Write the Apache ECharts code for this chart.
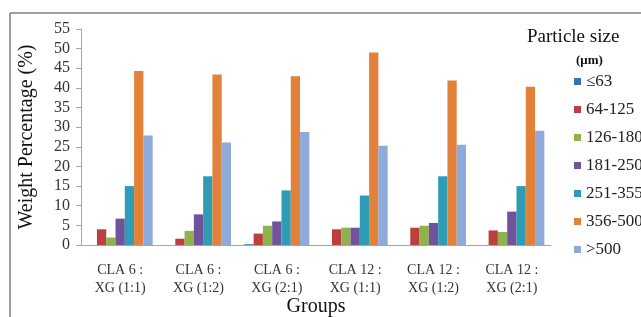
<!DOCTYPE html>
<html>
<head>
<meta charset="utf-8">
<script src="https://cdn.jsdelivr.net/npm/echarts@6/dist/echarts.min.js"></script>
<style>
  html, body { margin: 0; padding: 0; background: #fff; }
  #mainChart { width: 641px; height: 317px; }
</style>
</head>
<body>
<div id="mainChart"></div>
<script>
// 分组与粒径数据
var groups = ['CLA 6 :\nXG (1:1)', 'CLA 6 :\nXG (1:2)', 'CLA 6 :\nXG (2:1)',
              'CLA 12 :\nXG (1:1)', 'CLA 12 :\nXG (1:2)', 'CLA 12 :\nXG (2:1)'];
var sizeNames = ['≤63', '64-125', '126-180', '181-250', '251-355', '356-500', '>500'];
var size63 = [0, 0, 0.2, 0, 0, 0];
var size125 = [4.0, 1.6, 2.9, 4.0, 4.4, 3.7];
var size180 = [1.9, 3.6, 4.9, 4.4, 4.9, 3.3];
var size250 = [6.7, 7.8, 6.0, 4.4, 5.6, 8.5];
var size355 = [15.0, 17.5, 13.9, 12.6, 17.5, 15.0];
var size500 = [44.3, 43.4, 43.0, 49.0, 41.9, 40.3];
var sizeOver = [27.9, 26.1, 28.8, 25.3, 25.5, 29.1];
var yTicks = [0, 55, 5];

var seriesData = [size63, size125, size180, size250, size355, size500, sizeOver];
var colors = ['#3b72b3', '#bb3f3d', '#8fb24d', '#70539a', '#2f9cb6', '#e2823a', '#8eaad8'];
var font = '"Liberation Serif", "Times New Roman", serif';

var chartDom = document.getElementById('mainChart');
var myChart = echarts.init(chartDom);

var option = {
    animation: false,
    color: colors,
    grid: { left: 81, right: 90, top: 29, bottom: 72, containLabel: false, outerBoundsMode: 'none' },
    legend: {
        data: sizeNames,
        orient: 'vertical',
        left: 574,
        top: 73,
        padding: 0,
        icon: 'rect',
        itemWidth: 7,
        itemHeight: 7,
        itemGap: 11,
        textStyle: { fontFamily: font, fontSize: 17, color: '#222', lineHeight: 17 }
    },
    graphic: [
        { type: 'line', shape: { x1: 10, y1: 13, x2: 641, y2: 13 }, style: { stroke: '#808080', lineWidth: 1.5 } },
        { type: 'line', shape: { x1: 10, y1: 13, x2: 10, y2: 317 }, style: { stroke: '#808080', lineWidth: 1.5 } },
        { type: 'text', left: 527, top: 28, style: { text: 'Particle size', font: '19px ' + font, fill: '#111' } },
        { type: 'text', left: 576, top: 54, style: { text: '(μm)', font: 'bold 13px ' + font, fill: '#111' } }
    ],
    xAxis: {
        type: 'category',
        data: groups,
        name: 'Groups',
        nameLocation: 'middle',
        nameGap: 52,
        nameMoveOverlap: false,
        nameTextStyle: { fontFamily: font, fontSize: 20, color: '#111' },
        axisLine: { lineStyle: { color: '#a6a6a6' } },
        axisTick: { length: 5, lineStyle: { color: '#a6a6a6' } },
        axisLabel: { fontFamily: font, fontSize: 14, color: '#333', lineHeight: 18, margin: 16, interval: 0 }
    },
    yAxis: {
        type: 'value',
        min: yTicks[0],
        max: yTicks[1],
        interval: yTicks[2],
        name: 'Weight Percentage (%)',
        nameLocation: 'middle',
        nameGap: 44,
        nameMoveOverlap: false,
        nameTextStyle: { fontFamily: font, fontSize: 20, color: '#111' },
        axisLine: { show: true, lineStyle: { color: '#a6a6a6' } },
        axisTick: { show: true, length: 5, lineStyle: { color: '#a6a6a6' } },
        splitLine: { show: false },
        axisLabel: { fontFamily: font, fontSize: 16, color: '#333', margin: 11 }
    },
    series: sizeNames.map(function (name, i) {
        return {
            name: name,
            type: 'bar',
            data: seriesData[i],
            barGap: 0,
            barCategoryGap: '17%'
        };
    })
};

myChart.setOption(option);
</script>
</body>
</html>
